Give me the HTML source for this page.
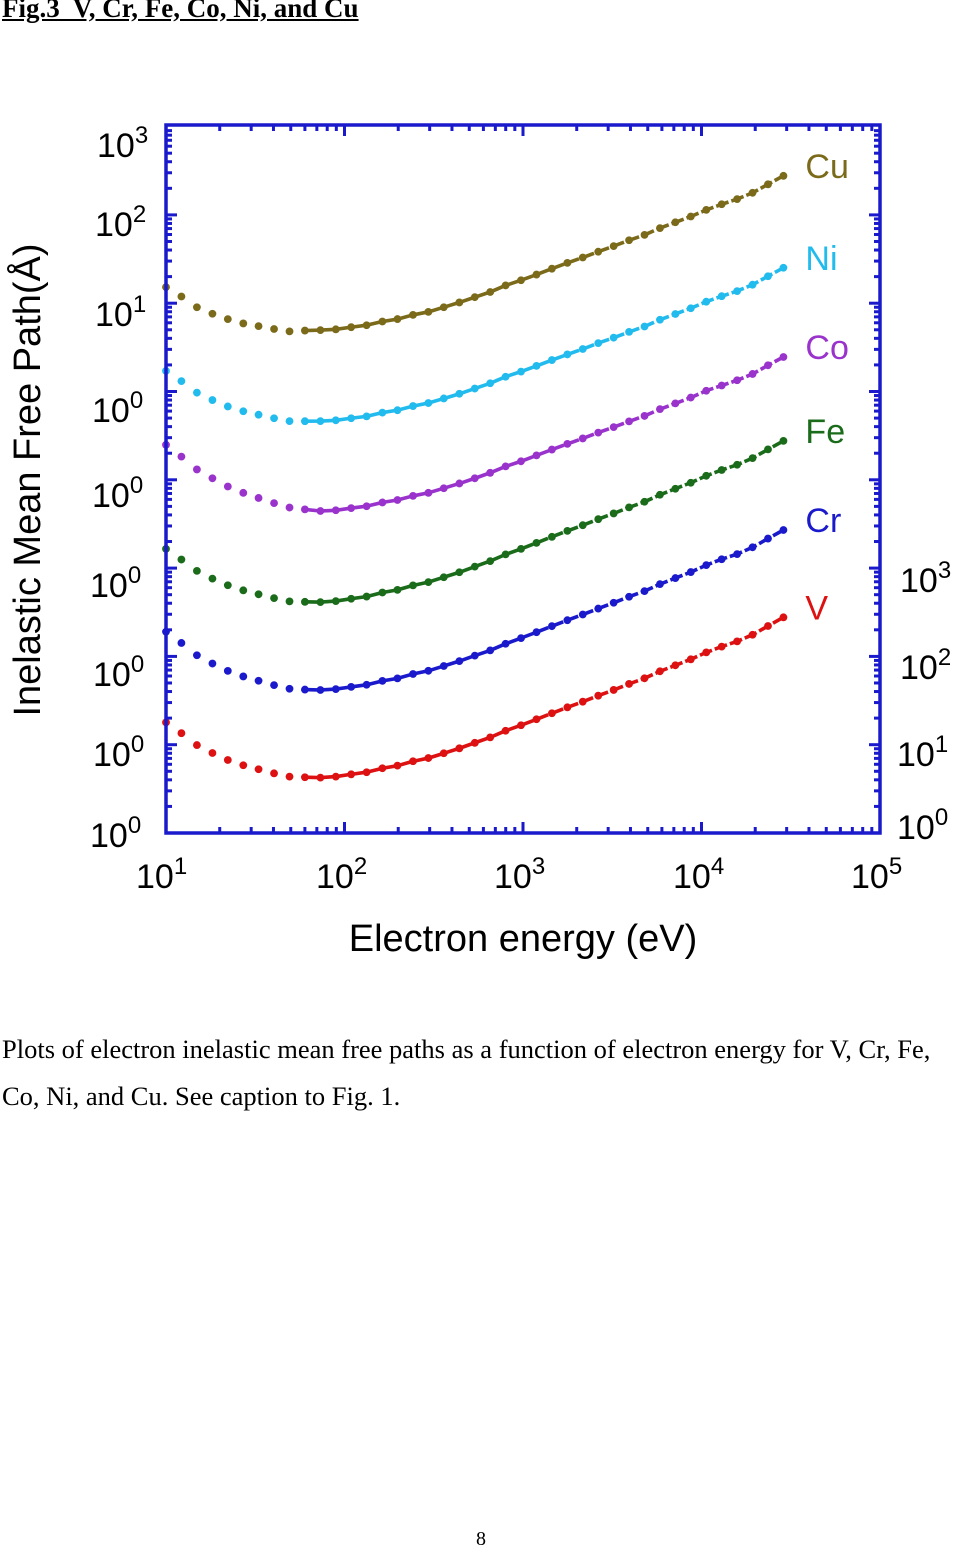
<!DOCTYPE html>
<html><head><meta charset="utf-8">
<style>
html,body{margin:0;padding:0;background:#fff;}
body{width:960px;height:1551px;position:relative;overflow:hidden;}
.hdr{position:absolute;left:2px;top:-7px;font:bold 27px "Liberation Serif",serif;text-decoration:underline;white-space:pre;}
.cap{position:absolute;left:2px;font:26.5px "Liberation Serif",serif;white-space:nowrap;}
svg text{font-family:"Liberation Sans",sans-serif;}
</style></head><body>
<div class="hdr">Fig.3  V, Cr, Fe, Co, Ni, and Cu</div>
<svg id="chart" width="960" height="1000" style="position:absolute;left:0;top:0">
<g id="ticks"></g>
<g id="marks"></g>
<rect x="166" y="125" width="714" height="708" fill="none" stroke="#1a1acc" stroke-width="3.5"/>
<g id="labels"></g>
<text x="523" y="951" font-size="38" text-anchor="middle">Electron energy (eV)</text>
<text transform="translate(40,480) rotate(-90)" font-size="38" text-anchor="middle">Inelastic Mean Free Path(Å)</text>
</svg>
<div class="cap" style="top:1034px">Plots of electron inelastic mean free paths as a function of electron energy for V, Cr, Fe,</div>
<div class="cap" style="top:1081px">Co, Ni, and Cu. See caption to Fig. 1.</div>
<div class="cap" style="top:1528px;left:476px;font-size:20px">8</div>
<script>
const energies=[10,12.2,14.9,18.2,22.2,27.1,33.0,40.3,49.2,60.0,73.3,89.4,109,133,163,198,242,295,360,440,537,655,799,975,1190,1452,1772,2162,2639,3220,3929,4795,5851,7140,8713,10633,12975,15834,19322,23579,28774];
const seriesNames=["V","Cr","Fe","Co","Ni","Cu"];
const seriesColors=["#dd1111","#1a1acc","#1a6b1a","#9933cc","#22bbee","#7a6a1a"];
const seriesOffsets=[0,1,2,3,4,5];
const imfpV=[17.9,13.5,9.9,8.05,6.71,5.85,5.27,4.74,4.35,4.28,4.24,4.35,4.62,4.88,5.41,5.79,6.49,7.06,8.0,9.1,10.5,12.1,14.4,16.6,19.4,22.7,26.5,30.7,35.9,41.7,48.8,56.5,67.8,79.3,92.7,111,129,148,176,221,277];
const imfpCr=[19.0,14.2,10.3,8.3,6.85,5.93,5.3,4.73,4.3,4.21,4.16,4.26,4.52,4.77,5.28,5.64,6.32,6.87,7.78,8.84,10.2,11.7,13.9,16.1,18.8,22.0,25.7,29.8,34.8,40.5,47.4,54.9,65.9,77.1,90.2,108,126,144,172,216,270];
const imfpFe=[16.5,12.5,9.3,7.6,6.4,5.6,5.05,4.57,4.2,4.15,4.12,4.23,4.5,4.76,5.29,5.67,6.37,6.94,7.88,8.97,10.4,12.0,14.3,16.5,19.3,22.6,26.4,30.6,35.8,41.6,48.7,56.4,67.7,79.2,92.6,111,129,148,176,221,276];
const imfpCo=[24.9,18.3,13.1,10.4,8.4,7.12,6.23,5.44,4.85,4.62,4.43,4.52,4.78,5.02,5.54,5.9,6.58,7.12,8.03,9.09,10.4,12.0,14.2,16.2,18.9,22.0,25.5,29.4,34.2,39.5,45.9,52.9,63.1,73.4,85.4,102,117,134,158,198,246];
const imfpNi=[17.1,13.1,9.7,8.0,6.77,5.98,5.46,4.98,4.62,4.61,4.62,4.72,4.98,5.23,5.77,6.14,6.84,7.4,8.34,9.43,10.8,12.4,14.7,16.8,19.5,22.7,26.3,30.3,35.3,40.7,47.3,54.5,65,75.5,87.7,104,120,137,162,202,252];
const imfpCu=[15.2,11.9,9.0,7.6,6.6,5.9,5.5,5.1,4.8,4.9,4.96,5.06,5.35,5.63,6.2,6.61,7.37,7.98,9.0,10.2,11.7,13.4,15.9,18.2,21.1,24.6,28.6,32.9,38.3,44.3,51.6,59.4,70.9,82.5,95.9,114,132,151,178,222,277];
const allSeries=[imfpV,imfpCr,imfpFe,imfpCo,imfpNi,imfpCu];
const xTickLabels=["1","2","3","4","5"];
const yLeftLabels=["3","2","1","0","0","0","0","0","0"];
const yRightLabels=["3","2","1","0"];

const NS="http://www.w3.org/2000/svg";
const X0=166,X1=880,Y0=833,Y1=125,DEC=88.3;
const xs=e=>X0+(Math.log10(e)-1)*(X1-X0)/4;
const ys=(v,off)=>Y0-(Math.log10(v)+off)*DEC;
function mk(tag,attrs,parent){const el=document.createElementNS(NS,tag);for(const k in attrs)el.setAttribute(k,attrs[k]);parent.appendChild(el);return el;}
const tk=document.getElementById('ticks'),mg=document.getElementById('marks'),lb=document.getElementById('labels');
const tc="#1a1acc";
for(let d=1;d<5;d++){for(let m=1;m<10;m++){const x=xs(m*Math.pow(10,d));const L=m===1?11:6;
 mk('line',{x1:x,x2:x,y1:Y0,y2:Y0-L,stroke:tc,'stroke-width':3},tk);
 mk('line',{x1:x,x2:x,y1:Y1,y2:Y1+L,stroke:tc,'stroke-width':3},tk);}}
for(let d=0;d<8;d++){for(let m=1;m<10;m++){const y=Y0-(d+Math.log10(m))*DEC;const L=m===1?11:6;
 mk('line',{x1:X0,x2:X0+L,y1:y,y2:y,stroke:tc,'stroke-width':3},tk);
 mk('line',{x1:X1,x2:X1-L,y1:y,y2:y,stroke:tc,'stroke-width':3},tk);}}
function pow10(x,y,exp,name){const t=mk('text',{x:x,y:y,'font-size':34},lb);
 t.appendChild(document.createTextNode('10'));const s=document.createElementNS(NS,'tspan');s.setAttribute('dy','-14');s.setAttribute('font-size','24');s.textContent=exp;t.appendChild(s);}
const xl=[136,316,494,673,851];
xTickLabels.forEach((l,i)=>pow10(xl[i],888,l,'x-tick-label'));
const yl=[[97,157],[95,236],[95,326],[92,422],[92,507],[90,597],[93,686],[93,766],[90,847]];
yLeftLabels.forEach((l,i)=>pow10(yl[i][0],yl[i][1],l,'y-left-tick-label'));
const yr=[[900,592],[900,679],[897,766],[897,839]];
yRightLabels.forEach((l,i)=>pow10(yr[i][0],yr[i][1],l,'y-right-tick-label'));
allSeries.forEach((vals,si)=>{
 const off=seriesOffsets[si],col=seriesColors[si];
 const g=mk('g',{},mg);
 
 
 let d='';
 for(let i=9;i<vals.length;i++){d+=(i===9?'M':'L')+xs(energies[i]).toFixed(1)+','+ys(vals[i],off).toFixed(1);}
 const p=mk('path',{d:d,fill:'none',stroke:col,'stroke-width':3.6,'stroke-dasharray':'13,3'},g);
 
 
 vals.forEach((v,i)=>{const c=mk('circle',{cx:xs(energies[i]),cy:ys(v,off),r:3.9,fill:col},g);
  
  });
 const last=vals.length-1;
 const t=mk('text',{x:xs(energies[last])+22,y:ys(vals[last],off)+2,'font-size':34,fill:col},g);
 
 
 t.textContent=seriesNames[si];
});
</script>
</body></html>
